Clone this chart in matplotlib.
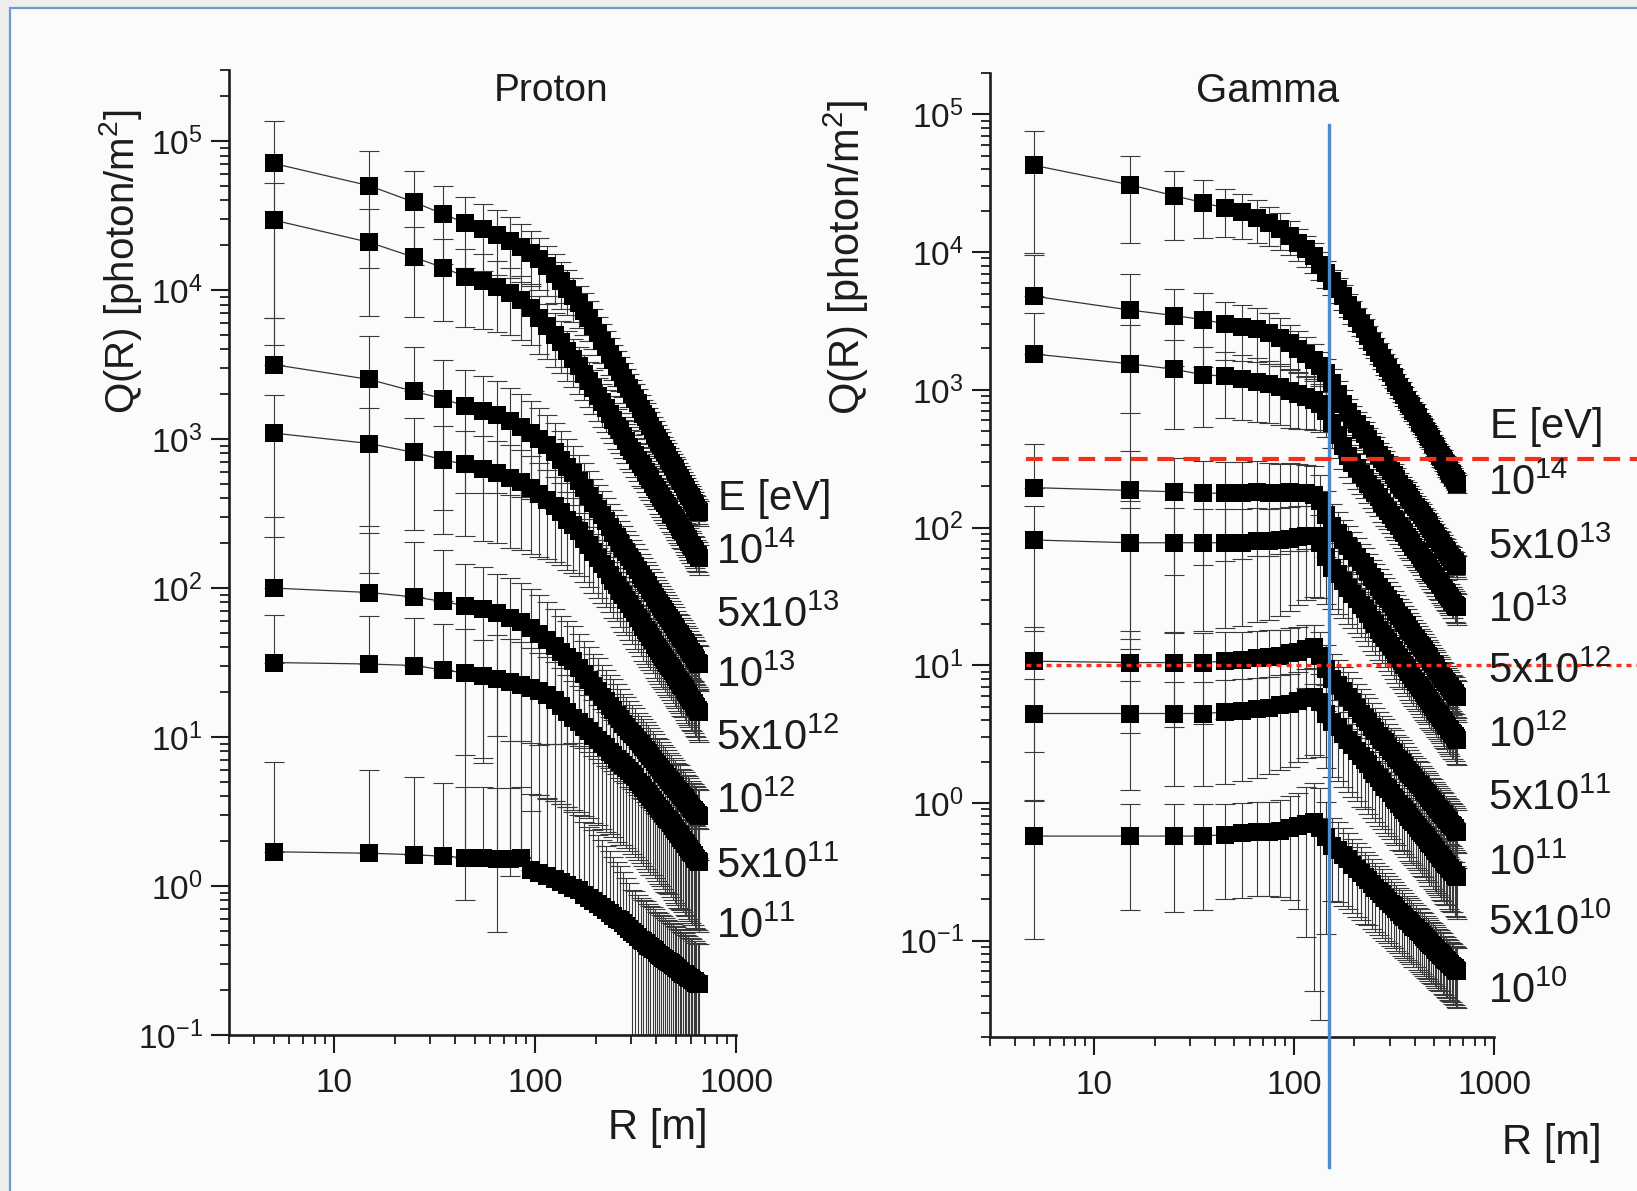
# ============================================================================
# Q(R) lateral photon density vs core distance - Proton / Gamma showers
# ============================================================================

import numpy as np
import matplotlib.pyplot as plt
from matplotlib.patches import Rectangle
from matplotlib.ticker import (FixedLocator, FixedFormatter, LogLocator,
                               NullFormatter, FuncFormatter)

plt.rcParams['font.family'] = ['Liberation Sans', 'DejaVu Sans']
plt.rcParams['mathtext.fontset'] = 'custom'
plt.rcParams['mathtext.rm'] = 'Liberation Sans'
plt.rcParams['mathtext.it'] = 'Liberation Sans:italic'
plt.rcParams['mathtext.bf'] = 'Liberation Sans:bold'

# ============================================================================
# 1. DATA (stored as log10 Q)
# ============================================================================

# core distance R [m]
r_m = [5, 15, 25, 35, 45, 55, 65, 75, 85, 95,
       105, 115, 125, 135, 145, 155, 165, 175, 185, 195,
       205, 215, 225, 235, 245, 255, 265, 275, 285, 295,
       305, 315, 325, 335, 345, 355, 365, 375, 385, 395,
       405, 415, 425, 435, 445, 455, 465, 475, 485, 495,
       505, 515, 525, 535, 545, 555, 565, 575, 585, 595,
       605, 615, 625, 635, 645, 655]

# --- Proton, log10 Q(R) ---
p_1e14 = [4.85, 4.70, 4.59, 4.51, 4.45, 4.41, 4.37, 4.33, 4.29, 4.25,
          4.21, 4.16, 4.11, 4.06, 4.01, 3.96, 3.91, 3.86, 3.81, 3.76,
          3.71, 3.66, 3.62, 3.57, 3.53, 3.49, 3.45, 3.41, 3.37, 3.34,
          3.30, 3.27, 3.24, 3.20, 3.17, 3.15, 3.12, 3.09, 3.06, 3.03,
          3.01, 2.98, 2.96, 2.93, 2.91, 2.89, 2.86, 2.84, 2.82, 2.80,
          2.78, 2.76, 2.74, 2.72, 2.70, 2.68, 2.66, 2.64, 2.62, 2.61,
          2.59, 2.57, 2.55, 2.54, 2.52, 2.51]
p_5e13 = [4.47, 4.32, 4.22, 4.15, 4.09, 4.06, 4.02, 3.98, 3.93, 3.88,
          3.81, 3.76, 3.70, 3.65, 3.59, 3.54, 3.49, 3.44, 3.39, 3.34,
          3.29, 3.25, 3.21, 3.17, 3.13, 3.09, 3.06, 3.02, 2.99, 2.95,
          2.92, 2.89, 2.86, 2.83, 2.81, 2.78, 2.75, 2.73, 2.70, 2.68,
          2.66, 2.63, 2.61, 2.59, 2.57, 2.55, 2.53, 2.50, 2.49, 2.47,
          2.45, 2.43, 2.41, 2.39, 2.38, 2.36, 2.34, 2.33, 2.31, 2.29,
          2.28, 2.26, 2.25, 2.23, 2.22, 2.20]
p_1e13 = [3.50, 3.40, 3.32, 3.27, 3.22, 3.19, 3.16, 3.12, 3.08, 3.04,
          3.00, 2.96, 2.91, 2.86, 2.81, 2.77, 2.72, 2.67, 2.62, 2.57,
          2.53, 2.49, 2.45, 2.41, 2.37, 2.34, 2.30, 2.27, 2.24, 2.21,
          2.18, 2.15, 2.12, 2.09, 2.06, 2.04, 2.02, 1.99, 1.97, 1.94,
          1.92, 1.90, 1.88, 1.86, 1.84, 1.82, 1.80, 1.78, 1.76, 1.74,
          1.72, 1.70, 1.69, 1.67, 1.66, 1.64, 1.62, 1.61, 1.59, 1.57,
          1.56, 1.55, 1.53, 1.52, 1.50, 1.49]
p_5e12 = [3.04, 2.97, 2.91, 2.86, 2.83, 2.80, 2.77, 2.74, 2.71, 2.67,
          2.63, 2.59, 2.55, 2.51, 2.46, 2.42, 2.38, 2.33, 2.29, 2.24,
          2.20, 2.16, 2.13, 2.09, 2.05, 2.02, 1.98, 1.95, 1.92, 1.89,
          1.86, 1.83, 1.80, 1.77, 1.74, 1.72, 1.70, 1.67, 1.65, 1.62,
          1.60, 1.58, 1.56, 1.54, 1.52, 1.50, 1.48, 1.46, 1.44, 1.42,
          1.40, 1.38, 1.37, 1.35, 1.34, 1.32, 1.30, 1.29, 1.27, 1.25,
          1.24, 1.23, 1.21, 1.20, 1.18, 1.17]
p_1e12 = [2.00, 1.97, 1.94, 1.91, 1.88, 1.86, 1.83, 1.80, 1.77, 1.73,
          1.69, 1.65, 1.61, 1.57, 1.54, 1.51, 1.46, 1.42, 1.38, 1.34,
          1.31, 1.27, 1.24, 1.21, 1.18, 1.15, 1.12, 1.09, 1.07, 1.04,
          1.02, 1.00, 0.97, 0.95, 0.93, 0.91, 0.89, 0.87, 0.85, 0.83,
          0.81, 0.80, 0.78, 0.76, 0.75, 0.73, 0.71, 0.70, 0.68, 0.67,
          0.65, 0.64, 0.63, 0.61, 0.60, 0.59, 0.57, 0.56, 0.55, 0.53,
          0.52, 0.51, 0.50, 0.49, 0.48, 0.47]
p_5e11 = [1.50, 1.49, 1.48, 1.45, 1.43, 1.41, 1.39, 1.37, 1.35, 1.33,
          1.31, 1.28, 1.25, 1.21, 1.17, 1.13, 1.10, 1.07, 1.04, 1.01,
          0.98, 0.95, 0.93, 0.90, 0.88, 0.85, 0.83, 0.81, 0.79, 0.77,
          0.75, 0.73, 0.70, 0.68, 0.66, 0.64, 0.62, 0.60, 0.58, 0.56,
          0.54, 0.52, 0.51, 0.49, 0.47, 0.45, 0.44, 0.42, 0.40, 0.38,
          0.37, 0.35, 0.34, 0.32, 0.31, 0.29, 0.28, 0.26, 0.25, 0.23,
          0.22, 0.21, 0.19, 0.18, 0.17, 0.16]
p_1e11 = [0.23, 0.22, 0.21, 0.20, 0.19, 0.19, 0.18, 0.18, 0.19, 0.11,
          0.09, 0.07, 0.05, 0.03, 0.01, -0.01, -0.03, -0.06, -0.08, -0.10,
          -0.12, -0.14, -0.16, -0.18, -0.20, -0.22, -0.23, -0.25, -0.27, -0.29,
          -0.31, -0.32, -0.34, -0.36, -0.37, -0.38, -0.40, -0.41, -0.42, -0.43,
          -0.45, -0.46, -0.47, -0.48, -0.49, -0.50, -0.51, -0.52, -0.53, -0.54,
          -0.55, -0.56, -0.57, -0.58, -0.59, -0.59, -0.60, -0.61, -0.62, -0.62,
          -0.63, -0.64, -0.64, -0.65, -0.66, -0.66]

# --- Proton, relative error (sigma / Q) ---
p_1e14_err = [0.94, 0.72, 0.62, 0.54, 0.50, 0.48, 0.46, 0.44, 0.42, 0.40,
              0.38, 0.37, 0.36, 0.35, 0.34, 0.33, 0.32, 0.31, 0.30, 0.30,
              0.29, 0.29, 0.28, 0.28, 0.27, 0.27, 0.26, 0.26, 0.26, 0.25,
              0.25, 0.25, 0.24, 0.24, 0.24, 0.24, 0.23, 0.23, 0.23, 0.23,
              0.22, 0.22, 0.22, 0.22, 0.22, 0.21, 0.21, 0.21, 0.21, 0.21,
              0.21, 0.20, 0.20, 0.20, 0.20, 0.20, 0.20, 0.20, 0.19, 0.19,
              0.19, 0.19, 0.19, 0.19, 0.19, 0.19]
p_5e13_err = [0.78, 0.68, 0.60, 0.56, 0.54, 0.52, 0.50, 0.48, 0.46, 0.44,
              0.42, 0.40, 0.39, 0.38, 0.37, 0.36, 0.35, 0.34, 0.33, 0.33,
              0.32, 0.32, 0.31, 0.31, 0.30, 0.30, 0.30, 0.29, 0.29, 0.29,
              0.28, 0.28, 0.28, 0.28, 0.27, 0.27, 0.27, 0.27, 0.27, 0.26,
              0.26, 0.26, 0.26, 0.26, 0.26, 0.25, 0.25, 0.25, 0.25, 0.25,
              0.25, 0.25, 0.24, 0.24, 0.24, 0.24, 0.24, 0.24, 0.24, 0.24,
              0.23, 0.23, 0.23, 0.23, 0.23, 0.23]
p_1e13_err = [1.05, 0.95, 1.00, 0.82, 0.74, 0.72, 0.70, 0.68, 0.66, 0.64,
              0.62, 0.60, 0.58, 0.56, 0.54, 0.52, 0.50, 0.48, 0.47, 0.46,
              0.45, 0.44, 0.43, 0.42, 0.42, 0.41, 0.41, 0.40, 0.40, 0.39,
              0.39, 0.39, 0.38, 0.38, 0.38, 0.37, 0.37, 0.37, 0.37, 0.36,
              0.36, 0.36, 0.36, 0.36, 0.35, 0.35, 0.35, 0.35, 0.35, 0.35,
              0.34, 0.34, 0.34, 0.34, 0.34, 0.34, 0.34, 0.33, 0.33, 0.33,
              0.33, 0.33, 0.33, 0.33, 0.32, 0.32]
p_5e12_err = [0.80, 0.72, 0.70, 0.68, 0.67, 0.67, 0.66, 0.66, 0.65, 0.64,
              0.62, 0.60, 0.58, 0.56, 0.54, 0.52, 0.50, 0.49, 0.48, 0.47,
              0.46, 0.45, 0.45, 0.44, 0.44, 0.43, 0.43, 0.43, 0.42, 0.42,
              0.42, 0.42, 0.41, 0.41, 0.41, 0.41, 0.41, 0.40, 0.40, 0.40,
              0.40, 0.40, 0.40, 0.39, 0.39, 0.39, 0.39, 0.39, 0.39, 0.39,
              0.38, 0.38, 0.38, 0.38, 0.38, 0.38, 0.38, 0.38, 0.37, 0.37,
              0.37, 0.37, 0.37, 0.37, 0.37, 0.37]
p_1e12_err = [2.00, 1.50, 1.35, 1.20, 0.90, 0.90, 0.85, 0.85, 0.84, 0.83,
              0.82, 0.80, 0.78, 0.76, 0.74, 0.72, 0.70, 0.68, 0.67, 0.66,
              0.65, 0.64, 0.63, 0.62, 0.61, 0.60, 0.60, 0.59, 0.58, 0.58,
              0.57, 0.57, 0.56, 0.56, 0.55, 0.55, 0.55, 0.54, 0.54, 0.54,
              0.53, 0.53, 0.53, 0.53, 0.52, 0.52, 0.52, 0.52, 0.51, 0.51,
              0.51, 0.51, 0.51, 0.50, 0.50, 0.50, 0.50, 0.50, 0.50, 0.49,
              0.49, 0.49, 0.49, 0.49, 0.49, 0.49]
p_5e11_err = [1.10, 1.10, 1.10, 1.05, 0.97, 0.74, 0.98, 0.95, 0.93, 0.85,
              0.80, 0.80, 0.79, 0.78, 0.77, 0.76, 0.75, 0.75, 0.74, 0.74,
              0.73, 0.73, 0.73, 0.72, 0.72, 0.72, 0.72, 0.71, 0.71, 0.71,
              0.71, 0.71, 0.70, 0.70, 0.70, 0.70, 0.70, 0.70, 0.69, 0.69,
              0.69, 0.69, 0.69, 0.69, 0.69, 0.68, 0.68, 0.68, 0.68, 0.68,
              0.68, 0.68, 0.68, 0.67, 0.67, 0.67, 0.67, 0.67, 0.67, 0.67,
              0.67, 0.66, 0.66, 0.66, 0.66, 0.66]
p_1e11_err = [3.00, 2.60, 2.30, 2.10, 2.00, 2.00, 2.00, 2.00, 2.00, 2.20,
              2.30, 2.30, 2.30, 2.30, 2.30, 2.20, 2.20, 2.10, 2.00, 2.00,
              1.90, 1.80, 1.70, 1.60, 1.50, 1.40, 1.30, 1.20, 1.10, 1.05,
              0.92, 0.92, 0.91, 0.91, 0.90, 0.90, 0.90, 0.90, 0.89, 0.89,
              0.89, 0.89, 0.89, 0.89, 0.88, 0.88, 0.88, 0.88, 0.88, 0.88,
              0.88, 0.88, 0.87, 0.87, 0.87, 0.87, 0.87, 0.87, 0.87, 0.87,
              0.87, 0.86, 0.86, 0.86, 0.86, 0.86]

# --- Gamma, log10 Q(R) ---
g_1e14 = [4.63, 4.49, 4.41, 4.36, 4.32, 4.29, 4.25, 4.21, 4.17, 4.12,
          4.07, 4.02, 3.97, 3.91, 3.85, 3.79, 3.73, 3.68, 3.62, 3.57,
          3.52, 3.48, 3.44, 3.39, 3.35, 3.31, 3.27, 3.23, 3.19, 3.16,
          3.12, 3.09, 3.05, 3.02, 2.99, 2.96, 2.93, 2.90, 2.88, 2.85,
          2.83, 2.80, 2.77, 2.75, 2.73, 2.70, 2.68, 2.66, 2.64, 2.61,
          2.59, 2.57, 2.55, 2.53, 2.51, 2.50, 2.48, 2.46, 2.44, 2.42,
          2.40, 2.39, 2.37, 2.35, 2.34, 2.32]
g_5e13 = [3.68, 3.58, 3.54, 3.51, 3.48, 3.46, 3.44, 3.41, 3.38, 3.34,
          3.30, 3.26, 3.22, 3.17, 3.12, 3.05, 2.97, 2.90, 2.84, 2.79,
          2.75, 2.71, 2.68, 2.64, 2.60, 2.57, 2.53, 2.50, 2.47, 2.44,
          2.41, 2.38, 2.35, 2.32, 2.29, 2.27, 2.25, 2.22, 2.20, 2.17,
          2.15, 2.13, 2.11, 2.09, 2.07, 2.05, 2.03, 2.01, 1.99, 1.97,
          1.95, 1.93, 1.92, 1.90, 1.89, 1.87, 1.85, 1.84, 1.82, 1.80,
          1.79, 1.78, 1.76, 1.75, 1.73, 1.72]
g_1e13 = [3.26, 3.19, 3.15, 3.11, 3.10, 3.08, 3.06, 3.04, 3.02, 2.99,
          2.97, 2.95, 2.93, 2.90, 2.85, 2.76, 2.67, 2.59, 2.52, 2.47,
          2.43, 2.39, 2.36, 2.32, 2.28, 2.25, 2.22, 2.18, 2.15, 2.12,
          2.09, 2.06, 2.04, 2.01, 1.98, 1.96, 1.93, 1.91, 1.89, 1.86,
          1.84, 1.82, 1.80, 1.78, 1.76, 1.74, 1.72, 1.70, 1.68, 1.66,
          1.65, 1.63, 1.61, 1.60, 1.58, 1.56, 1.55, 1.53, 1.52, 1.50,
          1.49, 1.47, 1.46, 1.44, 1.43, 1.42]
g_5e12 = [2.29, 2.27, 2.26, 2.25, 2.25, 2.25, 2.26, 2.25, 2.25, 2.26,
          2.25, 2.25, 2.24, 2.19, 2.09, 2.01, 1.96, 1.91, 1.87, 1.83,
          1.79, 1.75, 1.72, 1.68, 1.64, 1.61, 1.57, 1.54, 1.51, 1.48,
          1.45, 1.42, 1.39, 1.36, 1.34, 1.31, 1.29, 1.26, 1.24, 1.21,
          1.19, 1.17, 1.15, 1.13, 1.11, 1.09, 1.07, 1.05, 1.03, 1.01,
          1.00, 0.98, 0.96, 0.95, 0.93, 0.91, 0.90, 0.88, 0.87, 0.85,
          0.84, 0.82, 0.81, 0.80, 0.78, 0.77]
g_1e12 = [1.91, 1.89, 1.89, 1.89, 1.89, 1.89, 1.90, 1.90, 1.91, 1.92,
          1.93, 1.94, 1.94, 1.89, 1.79, 1.71, 1.66, 1.61, 1.56, 1.52,
          1.48, 1.44, 1.41, 1.37, 1.33, 1.30, 1.26, 1.23, 1.20, 1.17,
          1.14, 1.11, 1.08, 1.05, 1.03, 1.00, 0.98, 0.95, 0.93, 0.90,
          0.88, 0.86, 0.84, 0.82, 0.80, 0.78, 0.76, 0.74, 0.72, 0.70,
          0.69, 0.67, 0.65, 0.64, 0.62, 0.60, 0.59, 0.57, 0.56, 0.54,
          0.53, 0.51, 0.50, 0.49, 0.47, 0.46]
g_5e11 = [1.03, 1.02, 1.02, 1.02, 1.03, 1.04, 1.05, 1.06, 1.07, 1.09,
          1.10, 1.12, 1.13, 1.07, 0.97, 0.90, 0.86, 0.81, 0.77, 0.73,
          0.69, 0.65, 0.62, 0.59, 0.55, 0.52, 0.49, 0.46, 0.44, 0.41,
          0.38, 0.36, 0.33, 0.31, 0.29, 0.27, 0.24, 0.22, 0.20, 0.18,
          0.16, 0.14, 0.13, 0.11, 0.09, 0.07, 0.06, 0.04, 0.02, 0.01,
          -0.01, -0.02, -0.04, -0.05, -0.07, -0.08, -0.09, -0.11, -0.12, -0.13,
          -0.15, -0.16, -0.17, -0.18, -0.20, -0.21]
g_1e11 = [0.65, 0.65, 0.65, 0.65, 0.66, 0.67, 0.68, 0.69, 0.71, 0.72,
          0.74, 0.76, 0.77, 0.73, 0.65, 0.59, 0.55, 0.50, 0.46, 0.42,
          0.38, 0.34, 0.31, 0.28, 0.24, 0.21, 0.18, 0.15, 0.12, 0.10,
          0.07, 0.04, 0.02, -0.01, -0.03, -0.05, -0.07, -0.10, -0.12, -0.14,
          -0.16, -0.18, -0.20, -0.22, -0.23, -0.25, -0.27, -0.29, -0.30, -0.32,
          -0.34, -0.35, -0.37, -0.38, -0.40, -0.41, -0.43, -0.44, -0.45, -0.47,
          -0.48, -0.49, -0.50, -0.52, -0.53, -0.54]
g_1e10 = [-0.24, -0.24, -0.24, -0.24, -0.23, -0.22, -0.21, -0.21, -0.20, -0.18,
          -0.17, -0.15, -0.14, -0.18, -0.25, -0.31, -0.34, -0.38, -0.41, -0.45,
          -0.48, -0.51, -0.54, -0.56, -0.59, -0.62, -0.64, -0.66, -0.69, -0.71,
          -0.73, -0.75, -0.77, -0.79, -0.81, -0.83, -0.85, -0.86, -0.88, -0.90,
          -0.91, -0.93, -0.94, -0.96, -0.97, -0.99, -1.00, -1.02, -1.03, -1.04,
          -1.05, -1.07, -1.08, -1.09, -1.10, -1.11, -1.13, -1.14, -1.15, -1.16,
          -1.17, -1.18, -1.19, -1.20, -1.21, -1.22]

# --- Gamma, relative error (sigma / Q) ---
g_1e14_err = [0.77, 0.62, 0.52, 0.45, 0.38, 0.36, 0.34, 0.32, 0.30, 0.28,
              0.26, 0.25, 0.24, 0.23, 0.22, 0.21, 0.20, 0.20, 0.19, 0.19,
              0.19, 0.18, 0.18, 0.18, 0.18, 0.17, 0.17, 0.17, 0.17, 0.17,
              0.17, 0.16, 0.16, 0.16, 0.16, 0.16, 0.16, 0.16, 0.16, 0.16,
              0.16, 0.15, 0.15, 0.15, 0.15, 0.15, 0.15, 0.16, 0.15, 0.15,
              0.15, 0.15, 0.14, 0.15, 0.15, 0.15, 0.14, 0.15, 0.15, 0.14,
              0.15, 0.14, 0.15, 0.14, 0.14, 0.15]
g_5e13_err = [1.00, 0.82, 0.57, 0.55, 0.45, 0.44, 0.42, 0.40, 0.38, 0.36,
              0.34, 0.32, 0.30, 0.28, 0.27, 0.26, 0.25, 0.25, 0.24, 0.24,
              0.23, 0.23, 0.23, 0.22, 0.22, 0.22, 0.22, 0.21, 0.21, 0.21,
              0.21, 0.21, 0.21, 0.20, 0.20, 0.20, 0.20, 0.20, 0.20, 0.20,
              0.20, 0.20, 0.20, 0.20, 0.19, 0.20, 0.19, 0.19, 0.20, 0.19,
              0.19, 0.19, 0.19, 0.19, 0.19, 0.19, 0.19, 0.19, 0.19, 0.19,
              0.19, 0.19, 0.18, 0.19, 0.18, 0.19]
g_1e13_err = [1.00, 0.90, 0.63, 0.58, 0.50, 0.50, 0.49, 0.48, 0.47, 0.46,
              0.44, 0.42, 0.40, 0.38, 0.36, 0.34, 0.32, 0.31, 0.30, 0.29,
              0.29, 0.28, 0.28, 0.28, 0.27, 0.27, 0.27, 0.27, 0.27, 0.26,
              0.26, 0.26, 0.26, 0.26, 0.26, 0.26, 0.26, 0.26, 0.25, 0.26,
              0.25, 0.25, 0.25, 0.25, 0.26, 0.25, 0.25, 0.25, 0.25, 0.25,
              0.25, 0.25, 0.25, 0.25, 0.25, 0.24, 0.25, 0.25, 0.25, 0.24,
              0.25, 0.25, 0.24, 0.25, 0.25, 0.25]
g_5e12_err = [1.08, 0.93, 0.75, 0.70, 0.68, 0.67, 0.66, 0.65, 0.64, 0.63,
              0.62, 0.61, 0.60, 0.55, 0.50, 0.45, 0.42, 0.40, 0.38, 0.37,
              0.36, 0.36, 0.35, 0.35, 0.34, 0.34, 0.34, 0.33, 0.33, 0.33,
              0.33, 0.32, 0.32, 0.32, 0.32, 0.32, 0.31, 0.32, 0.31, 0.31,
              0.31, 0.31, 0.31, 0.31, 0.31, 0.30, 0.31, 0.31, 0.30, 0.31,
              0.30, 0.30, 0.31, 0.30, 0.30, 0.30, 0.30, 0.30, 0.30, 0.30,
              0.30, 0.29, 0.30, 0.30, 0.30, 0.30]
g_1e12_err = [0.78, 0.80, 0.78, 0.77, 0.76, 0.75, 0.74, 0.73, 0.72, 0.70,
              0.68, 0.66, 0.64, 0.60, 0.55, 0.50, 0.48, 0.46, 0.45, 0.44,
              0.43, 0.42, 0.42, 0.41, 0.41, 0.40, 0.40, 0.39, 0.39, 0.39,
              0.38, 0.38, 0.38, 0.38, 0.37, 0.37, 0.37, 0.37, 0.37, 0.36,
              0.36, 0.36, 0.36, 0.36, 0.36, 0.36, 0.35, 0.36, 0.35, 0.35,
              0.35, 0.35, 0.35, 0.35, 0.35, 0.35, 0.35, 0.34, 0.35, 0.35,
              0.35, 0.35, 0.34, 0.35, 0.35, 0.35]
g_5e11_err = [0.78, 0.69, 0.66, 0.64, 0.62, 0.60, 0.58, 0.56, 0.54, 0.52,
              0.50, 0.48, 0.46, 0.48, 0.50, 0.52, 0.52, 0.51, 0.51, 0.50,
              0.50, 0.50, 0.49, 0.49, 0.49, 0.48, 0.48, 0.48, 0.48, 0.47,
              0.47, 0.47, 0.47, 0.47, 0.46, 0.47, 0.46, 0.46, 0.46, 0.46,
              0.46, 0.46, 0.46, 0.45, 0.46, 0.46, 0.45, 0.45, 0.46, 0.45,
              0.45, 0.45, 0.45, 0.45, 0.45, 0.45, 0.45, 0.45, 0.44, 0.45,
              0.45, 0.45, 0.45, 0.44, 0.45, 0.45]
g_1e11_err = [0.77, 0.72, 0.70, 0.70, 0.70, 0.69, 0.68, 0.67, 0.66, 0.65,
              0.64, 0.63, 0.62, 0.60, 0.60, 0.60, 0.59, 0.59, 0.58, 0.58,
              0.57, 0.57, 0.56, 0.56, 0.55, 0.55, 0.55, 0.54, 0.54, 0.54,
              0.53, 0.53, 0.53, 0.53, 0.52, 0.52, 0.52, 0.52, 0.52, 0.51,
              0.51, 0.51, 0.51, 0.51, 0.51, 0.51, 0.50, 0.51, 0.50, 0.50,
              0.50, 0.50, 0.50, 0.50, 0.50, 0.50, 0.50, 0.50, 0.49, 0.50,
              0.50, 0.50, 0.49, 0.50, 0.50, 0.50]
g_1e10_err = [0.82, 0.71, 0.72, 0.71, 0.66, 0.66, 0.66, 0.66, 0.67, 0.70,
              0.75, 0.85, 0.94, 0.96, 0.80, 0.60, 0.58, 0.57, 0.56, 0.55,
              0.55, 0.54, 0.54, 0.53, 0.53, 0.52, 0.52, 0.52, 0.51, 0.51,
              0.51, 0.50, 0.50, 0.50, 0.50, 0.49, 0.49, 0.49, 0.49, 0.49,
              0.48, 0.48, 0.48, 0.48, 0.48, 0.48, 0.47, 0.47, 0.47, 0.47,
              0.47, 0.47, 0.47, 0.47, 0.46, 0.47, 0.46, 0.46, 0.46, 0.46,
              0.46, 0.46, 0.46, 0.46, 0.46, 0.46]

proton_series = [(p_1e14, p_1e14_err), (p_5e13, p_5e13_err), (p_1e13, p_1e13_err),
                 (p_5e12, p_5e12_err), (p_1e12, p_1e12_err), (p_5e11, p_5e11_err),
                 (p_1e11, p_1e11_err)]
gamma_series = [(g_1e14, g_1e14_err), (g_5e13, g_5e13_err), (g_1e13, g_1e13_err),
                (g_5e12, g_5e12_err), (g_1e12, g_1e12_err), (g_5e11, g_5e11_err),
                (g_1e11, g_1e11_err), (g_1e10, g_1e10_err)]

# energy labels on the right of each panel
proton_labels = [r'$10^{14}$', r'5x$10^{13}$', r'$10^{13}$', r'5x$10^{12}$',
                 r'$10^{12}$', r'5x$10^{11}$', r'$10^{11}$']
gamma_labels = [r'$10^{14}$', r'5x$10^{13}$', r'$10^{13}$', r'5x$10^{12}$',
                r'$10^{12}$', r'5x$10^{11}$', r'$10^{11}$', r'5x$10^{10}$',
                r'$10^{10}$']

# decade ticks shown on the y axes
y_decades = [0.1, 1, 10, 100, 1000, 1e4, 1e5]

# ============================================================================
# 2. FIGURE
# ============================================================================

W, H = 1637, 1191
fig = plt.figure(figsize=(W / 100, H / 100), dpi=100, facecolor='#eeeeee')


def fx(px):
    return px / W


def fy(py):
    return 1 - py / H


# screenshot frame (blue edge on left/top)
fig.patches.append(Rectangle((fx(10), -0.1), 1.2, fy(8) + 0.1, transform=fig.transFigure,
                             facecolor='#fbfbfb', edgecolor='#6b9bd6', lw=1.6, zorder=-10))

TXT = '#1c1c1c'


def style_axis(ax, ylim):
    ax.set_xscale('log')
    ax.set_yscale('log')
    ax.set_xlim(3, 1000)
    ax.set_ylim(*ylim)
    ax.set_facecolor('none')
    for s in ['top', 'right']:
        ax.spines[s].set_visible(False)
    for s in ['left', 'bottom']:
        ax.spines[s].set_linewidth(1.9)
        ax.spines[s].set_color(TXT)
    ax.xaxis.set_major_locator(FixedLocator([10, 100, 1000]))
    ax.xaxis.set_major_formatter(FixedFormatter(['10', '100', '1000']))
    ax.xaxis.set_minor_locator(LogLocator(base=10, subs=np.arange(2, 10), numticks=20))
    ax.xaxis.set_minor_formatter(NullFormatter())
    ax.yaxis.set_major_locator(FixedLocator(y_decades))
    ax.yaxis.set_major_formatter(FuncFormatter(lambda v, p: r'$10^{%d}$' % round(np.log10(v))))
    ax.yaxis.set_minor_locator(LogLocator(base=10, subs=np.arange(2, 10), numticks=20))
    ax.yaxis.set_minor_formatter(NullFormatter())
    ax.tick_params(which='major', direction='out', length=13, width=1.5,
                   color=TXT, labelcolor=TXT, labelsize=24, pad=6)
    ax.tick_params(which='minor', direction='out', length=6.5, width=1.3, color=TXT)
    ax.tick_params(axis='x', which='major', pad=11)


def draw_series(ax, lg, frac):
    q = 10.0 ** np.array(lg)
    sig = q * np.array(frac)
    lower = np.where(q - sig > 0, sig, 0.0)   # no lower bar when it would go negative
    ax.errorbar(r_m, q, yerr=[lower, sig], fmt='none', ecolor='#3a3a3a',
                elinewidth=0.8, capsize=7, capthick=0.8, zorder=2)
    ax.plot(r_m, q, '-', color='#333333', lw=0.9, zorder=3)
    ax.plot(r_m, q, 's', color='black', ms=13.5, mew=0, zorder=4)


# ----------------------------------------------------------------------------
# Proton panel
# ----------------------------------------------------------------------------
ax1 = fig.add_axes([fx(229), fy(1035), fx(736) - fx(229), fy(70) - fy(1035)])
style_axis(ax1, (0.1, 3.0e5))
for lg, frac in proton_series:
    draw_series(ax1, lg, frac)

fig.text(fx(551), fy(91), 'Proton', ha='center', va='center', fontsize=28, color=TXT)
fig.text(fx(120), fy(262), r'Q(R) [photon/m$^2$]', rotation=90, ha='center',
         va='center', fontsize=29, color=TXT)
fig.text(fx(658), fy(1128), 'R [m]', ha='center', va='center', fontsize=30, color=TXT)
fig.text(fx(718), fy(499), 'E [eV]', ha='left', va='center', fontsize=30, color=TXT)
proton_label_y = [553, 616, 676, 739, 802, 867, 927]
for lab, py in zip(proton_labels, proton_label_y):
    fig.text(fx(716), fy(py), lab, ha='left', va='center', fontsize=30, color=TXT)

# ----------------------------------------------------------------------------
# Gamma panel
# ----------------------------------------------------------------------------
ax2 = fig.add_axes([fx(990), fy(1037), fx(1494) - fx(990), fy(73) - fy(1037)])
style_axis(ax2, (0.02, 2.0e5))
for lg, frac in gamma_series:
    draw_series(ax2, lg, frac)

fig.text(fx(1268), fy(91), 'Gamma', ha='center', va='center', fontsize=29, color=TXT)
fig.text(fx(846), fy(257), r'Q(R) [photon/m$^2$]', rotation=90, ha='center',
         va='center', fontsize=30, color=TXT)
fig.text(fx(1552), fy(1143), 'R [m]', ha='center', va='center', fontsize=30, color=TXT)
fig.text(fx(1490), fy(427), 'E [eV]', ha='left', va='center', fontsize=30, color=TXT)
gamma_label_y = [484, 548, 611, 672, 736, 799, 864, 924, 992]
for lab, py in zip(gamma_labels, gamma_label_y):
    fig.text(fx(1488), fy(py), lab, ha='left', va='center', fontsize=30, color=TXT)

# overlay guides: blue vertical at R = 150 m, red lines at 10^2.5 and 10^1
ax2.plot([150, 150], [-0.135, 0.946], transform=ax2.get_xaxis_transform(),
         color='#4d8bcb', lw=2.4, clip_on=False, zorder=10)
ax2.plot([0.072, 1.3], [10 ** 2.5, 10 ** 2.5], transform=ax2.get_yaxis_transform(),
         color='#f3301a', lw=3.0, dashes=(4, 2.3), clip_on=False, zorder=10)
ax2.plot([0.072, 1.3], [10, 10], transform=ax2.get_yaxis_transform(),
         color='#f3301a', lw=2.4, dashes=(1.5, 1.5), clip_on=False, zorder=10)

fig.savefig('out.png', dpi=100, facecolor=fig.get_facecolor())
